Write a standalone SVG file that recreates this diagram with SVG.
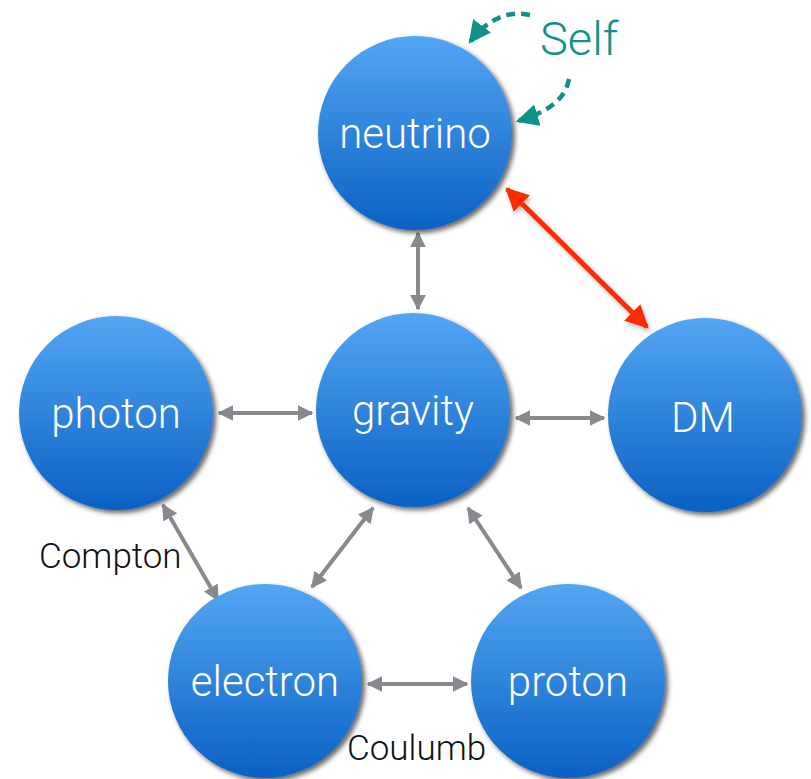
<svg xmlns="http://www.w3.org/2000/svg" width="811" height="779" viewBox="0 0 811 779">
<defs>
<linearGradient id="ball" x1="0" y1="0" x2="0" y2="1">
<stop offset="0" stop-color="#53a6f3"/>
<stop offset="1" stop-color="#0b61c3"/>
</linearGradient>
<filter id="sh" x="-20%" y="-20%" width="140%" height="140%">
<feDropShadow dx="3" dy="3" stdDeviation="2.5" flood-color="#000" flood-opacity="0.6"/>
</filter>
<filter id="ash" x="-20%" y="-20%" width="140%" height="140%">
<feDropShadow dx="2" dy="3" stdDeviation="2" flood-color="#000" flood-opacity="0.25"/>
</filter>
<marker id="ag" viewBox="0 0 10 10" refX="9" refY="5" markerWidth="4" markerHeight="4" orient="auto-start-reverse" markerUnits="strokeWidth">
<path d="M0,0 L10,5 L0,10 z" fill="#86898d"/>
</marker>
<marker id="ar" viewBox="0 0 10 10" refX="9" refY="5" markerWidth="4.6" markerHeight="4.6" orient="auto-start-reverse" markerUnits="strokeWidth">
<path d="M0,0 L10,5 L0,10 z" fill="#ff2a00"/>
</marker>
<marker id="at" viewBox="0 0 10 10" refX="9" refY="5" markerWidth="5" markerHeight="5" orient="auto" markerUnits="strokeWidth">
<path d="M0,0 L10,5 L0,10 z" fill="#0f9088"/>
</marker>
</defs>
<style>
.node circle{fill:url(#ball);filter:url(#sh)}
.node text{fill:#fff;font-family:Roboto,"Liberation Sans",sans-serif;font-weight:300;font-size:42px;text-anchor:middle}
.g{stroke:#86898d;stroke-width:4;fill:none;marker-start:url(#ag);marker-end:url(#ag)}
.r{stroke:#ff2a00;stroke-width:5;fill:none;marker-start:url(#ar);marker-end:url(#ar);filter:url(#ash)}
.t{stroke:#0f9088;stroke-width:4.5;fill:none;stroke-dasharray:9 6;marker-end:url(#at)}
.lbl{font-family:Roboto,"Liberation Sans",sans-serif;font-weight:300;font-size:35px;fill:#111}
</style>
<rect width="811" height="779" fill="#fff"/>
<g id="connectors">
<line class="g" x1="418" y1="233" x2="418" y2="309"/>
<line class="g" x1="219" y1="413" x2="312" y2="413"/>
<line class="g" x1="516" y1="418" x2="604" y2="418"/>
<line class="g" x1="163" y1="505" x2="218" y2="600"/>
<line class="g" x1="373" y1="508" x2="312" y2="587"/>
<line class="g" x1="468" y1="508" x2="521" y2="588"/>
<line class="g" x1="368" y1="684" x2="467" y2="684"/>
<line class="r" x1="507" y1="189" x2="647" y2="327"/>
<path class="t" d="M530,15 C510,10 488,18 470,42"/>
<path class="t" d="M569,79 C565,100 548,112 518,121"/>
</g>
<g id="neutrino" class="node"><circle cx="415" cy="133" r="97"/><text x="415" y="148">neutrino</text></g>
<g id="gravity" class="node"><circle cx="413" cy="410" r="97"/><text x="413" y="425">gravity</text></g>
<g id="photon" class="node"><circle cx="116" cy="413" r="97"/><text x="116" y="428">photon</text></g>
<g id="DM" class="node"><circle cx="705" cy="415" r="97"/><text x="703" y="432">DM</text></g>
<g id="electron" class="node"><circle cx="265" cy="681" r="97"/><text x="265" y="696">electron</text></g>
<g id="proton" class="node"><circle cx="568" cy="681" r="97"/><text x="568" y="696">proton</text></g>
<text class="lbl" x="39" y="568">Compton</text>
<text class="lbl" x="347" y="760">Coulumb</text>
<text x="540" y="55" style="font-family:Roboto,'Liberation Sans',sans-serif;font-weight:300;font-size:47px;fill:#0f9088">Self</text>
</svg>
